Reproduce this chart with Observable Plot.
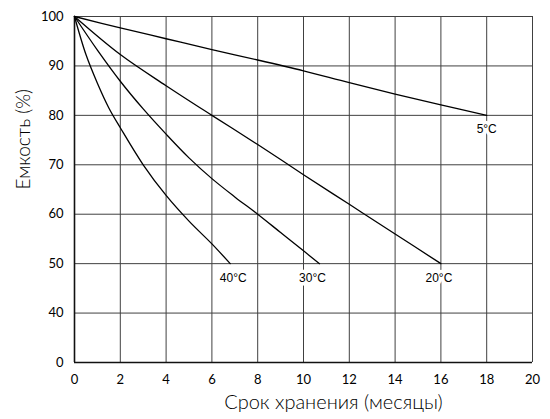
<!DOCTYPE html>
<html><head><meta charset="utf-8">
<script src="https://cdn.jsdelivr.net/npm/d3@7"></script>
<script src="https://cdn.jsdelivr.net/npm/@observablehq/plot@0.6"></script>
<style>
body{margin:0;background:#fff;}
#chart svg{display:block;}
</style>
</head><body><div id="chart"></div>
<script>
// Storage time (months) and capacity (%) for each temperature
const months5  = [0, 2, 4, 6, 8, 10, 12, 14, 16, 18];
const cap5     = [100, 97.7, 95.5, 93.3, 91.2, 89, 86.6, 84.3, 82.1, 80];
const months20 = [0, 2, 4, 6, 8, 10, 12, 14, 16];
const cap20    = [100, 92.3, 86, 80, 74.1, 68, 62, 56, 50];
const months30 = [0, 1, 2, 3, 4, 5, 6, 7, 8, 9, 10, 10.7];
const cap30    = [100, 93.2, 86.9, 81.3, 76.2, 71.4, 67.2, 63.5, 60, 56.3, 52.6, 50];
const months40 = [0, 0.5, 1, 1.5, 2, 3, 4, 5, 6, 6.8];
const cap40    = [100, 92.3, 86.5, 81.5, 77.5, 70, 63.8, 58.6, 54, 50];
const seriesLabels = ["5°C", "20°C", "30°C", "40°C"];
const xTicks = [0, 2, 4, 6, 8, 10, 12, 14, 16, 18, 20];
const yTicks = [0, 40, 50, 60, 70, 80, 90, 100];
const xTitle = "Срок хранения (месяцы)";
const yTitle = "Емкость (%)";

// The y axis is broken: "0" sits one step below 40.
const yBreak = 30;
const yPos = t => (t === 0 ? yBreak : t);

const seriesDefs = [
  {label: seriesLabels[0], m: months5, v: cap5, dx: 0, dy: 14},
  {label: seriesLabels[1], m: months20, v: cap20, dx: -2, dy: 15},
  {label: seriesLabels[2], m: months30, v: cap30, dx: -7, dy: 15},
  {label: seriesLabels[3], m: months40, v: cap40, dx: 3, dy: 15}
];
const data = seriesDefs.flatMap(s => s.m.map((m, i) => ({series: s.label, m, v: s.v[i]})));

const W = 550, H = 419, mt = 16, mb = 57, ml = 74, mr = 18;
const gridColor = "#404040";
const font = "Lato, 'Open Sans', sans-serif";

const labelMarks = seriesDefs.map(s => Plot.text(data, Plot.selectLast({
  filter: d => d.series === s.label,
  x: "m", y: "v", text: "series",
  dx: s.dx, dy: s.dy,
  fill: "#000", stroke: "white", strokeWidth: 7,
  fontFamily: "'Liberation Sans', Arial, sans-serif", fontSize: 12
})));

const plot = Plot.plot({
  width: W, height: H,
  marginTop: mt, marginBottom: mb, marginLeft: ml, marginRight: mr,
  style: {fontFamily: font, fontSize: "13px", color: "#000", background: "#fff", overflow: "visible"},
  x: {domain: [0, 20]},
  y: {domain: [yBreak, 100]},
  marks: [
    Plot.gridX(xTicks.filter(d => d > 0), {stroke: gridColor, strokeOpacity: 1, strokeWidth: 1}),
    Plot.gridY(yTicks.filter(d => d > 0), {stroke: gridColor, strokeOpacity: 1, strokeWidth: 1}),
    Plot.ruleX([0], {stroke: "#111", strokeWidth: 1.6}),
    Plot.ruleY([yBreak], {stroke: "#111", strokeWidth: 1.6}),
    Plot.axisX({ticks: xTicks, tickSize: 0, tickPadding: 12, label: null, fontSize: 13}),
    Plot.axisY({ticks: yTicks.map(yPos), tickFormat: d => (d === yBreak ? "0" : String(d)), tickSize: 0, tickPadding: 11, label: null, fontSize: 13}),
    Plot.line(data, {x: "m", y: "v", z: "series", curve: "catmull-rom", stroke: "#000", strokeWidth: 1.3}),
    ...labelMarks,
    Plot.text([xTitle], {frameAnchor: "bottom", dx: 30, dy: 46, fontSize: 20, fill: "#000", fontWeight: 300}),
    Plot.text([yTitle], {frameAnchor: "left", rotate: -90, dx: -51, fontSize: 19, fill: "#000", fontWeight: 300})
  ]
});
document.getElementById("chart").appendChild(plot);
</script>
</body></html>
